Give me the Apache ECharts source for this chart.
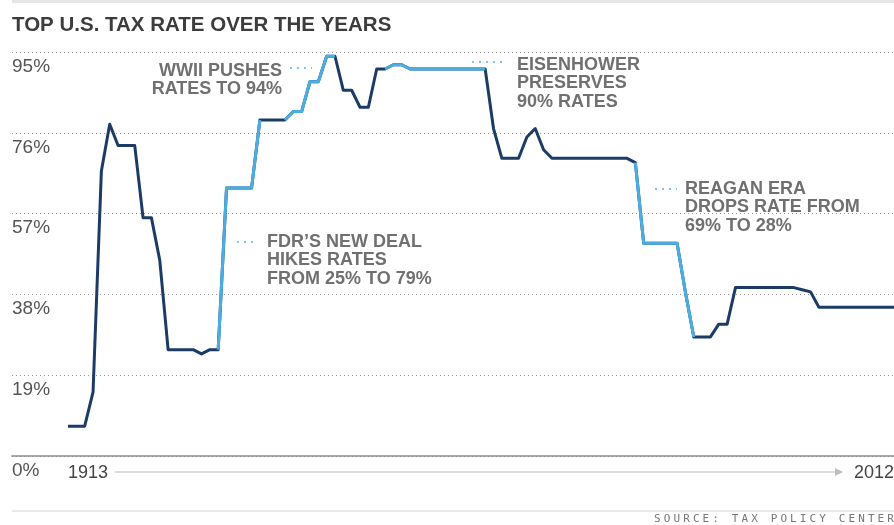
<!DOCTYPE html>
<html>
<head>
<meta charset="utf-8">
<script src="https://cdn.jsdelivr.net/npm/echarts@6/dist/echarts.min.js"></script>
<style>
html,body{margin:0;padding:0;background:#fff;}
#wrap{position:relative;width:894px;height:525px;overflow:hidden;}
#c{width:894px;height:525px;}
#src{position:absolute;left:654px;top:512px;font-family:"DejaVu Sans Mono","Liberation Mono",monospace;font-size:11px;letter-spacing:3.1px;color:#777;white-space:nowrap;}
</style>
</head>
<body>
<div id="wrap"><div id="c"></div><div id="src">SOURCE: TAX POLICY CENTER</div></div>
<script>
// ---- data ----
const years = [1913,1914,1915,1916,1917,1918,1919,1920,1921,1922,1923,1924,1925,1926,1927,1928,1929,1930,1931,1932,
1933,1934,1935,1936,1937,1938,1939,1940,1941,1942,1943,1944,1945,1946,1947,1948,1949,1950,1951,1952,
1953,1954,1955,1956,1957,1958,1959,1960,1961,1962,1963,1964,1965,1966,1967,1968,1969,1970,1971,1972,
1973,1974,1975,1976,1977,1978,1979,1980,1981,1982,1983,1984,1985,1986,1987,1988,1989,1990,1991,1992,
1993,1994,1995,1996,1997,1998,1999,2000,2001,2002,2003,2004,2005,2006,2007,2008,2009,2010,2011,2012];
const rates = [7,7,7,15,67,78,73,73,73,56,56,46,25,25,25,25,24,25,25,63,
63,63,63,79,79,79,79,81,81,88,88,94,94,86,86,82,82,91,91,92,
92,91,91,91,91,91,91,91,91,91,91,77,70,70,70,75,77,72,70,70,
70,70,70,70,70,70,70,70,69,50,50,50,50,50,38.5,28,28,28,31,31,
39.6,39.6,39.6,39.6,39.6,39.6,39.6,39.6,39.1,38.6,35,35,35,35,35,35,35,35,35,35];
const yTicks = [0,19,38,57,76,95];
const xLabelYears = [1913, 2012];
const highlightRanges = [[1931,1936],[1939,1945],[1951,1963],[1981,1988]];
const annotations = [
  {text:'WWII PUSHES\nRATES TO 94%', x:282, y:61.5, align:'right', dots:[290,312,68]},
  {text:'EISENHOWER\nPRESERVES\n90% RATES', x:517, y:55.5, align:'left', dots:[472,507,62]},
  {text:'FDR\u2019S NEW DEAL\nHIKES RATES\nFROM 25% TO 79%', x:267, y:232.5, align:'left', dots:[237,258,242]},
  {text:'REAGAN ERA\nDROPS RATE FROM\n69% TO 28%', x:685, y:179.5, align:'left', dots:[655,677,189]}
];

const DARK = '#1c3c66';
const LIGHT = '#4aaee3';

const fullData = years.map((y,i)=>[y, rates[i]]);
const lightSeries = highlightRanges.map(r => ({
  type:'line', xAxisIndex:1, yAxisIndex:1, symbol:'none', z:4,
  lineStyle:{color:LIGHT, width:3, join:'round'},
  data: fullData.filter(d => d[0] >= r[0] && d[0] <= r[1]),
  silent:true, animation:false
}));

const graphics = [
  {type:'rect', shape:{x:12,y:0,width:882,height:3}, style:{fill:'#e6e6e6'}},
  {type:'rect', shape:{x:12,y:510,width:882,height:2}, style:{fill:'#e9e9e9'}},
  {type:'text', x:12, y:15, style:{text:'TOP U.S. TAX RATE OVER THE YEARS', font:'bold 20.5px "Liberation Sans", Arial, sans-serif', fill:'#3c3c3c', verticalAlign:'top'}},
  {type:'line', shape:{x1:115,y1:472,x2:836,y2:472}, style:{stroke:'#bdbdbd', lineWidth:1.2}},
  {type:'polygon', shape:{points:[[835,468],[843,472],[835,476]]}, style:{fill:'#bdbdbd'}}
];
annotations.forEach(a => {
  graphics.push({type:'text', x:a.x, y:a.y, z:10, style:{text:a.text, align:a.align, verticalAlign:'top', lineHeight:18.5,
    font:'bold 18px "Liberation Sans", Arial, sans-serif', fill:'#707070'}});
  graphics.push({type:'line', z:10, shape:{x1:a.dots[0], y1:a.dots[2], x2:a.dots[1], y2:a.dots[2]},
    style:{stroke:'#7fc6ea', lineWidth:2, lineDash:[2,5]}});
});

const chart = echarts.init(document.getElementById('c'), null, {renderer:'canvas'});
chart.setOption({
  animation:false,
  backgroundColor:'#fff',
  grid:[
    {left:12, right:0, top:52, bottom:69, outerBoundsMode:'none', containLabel:false},
    {left:68, right:0, top:52, bottom:69, outerBoundsMode:'none', containLabel:false}
  ],
  xAxis:[
    {gridIndex:0, type:'value', min:0, max:1, axisLabel:{show:false}, axisTick:{show:false}, splitLine:{show:false},
      axisLine:{show:true, lineStyle:{color:'#8c8c8c', width:1.5}}},
    {gridIndex:1, type:'value', min:1913, max:2012, axisLine:{show:false}, axisTick:{show:false}, splitLine:{show:false},
      axisLabel:{customValues:xLabelYears, showMinLabel:true, showMaxLabel:true, alignMinLabel:'left', alignMaxLabel:'right',
        formatter: v => String(v),
        fontSize:18, fontFamily:'"Liberation Sans", Arial, sans-serif', color:'#444', margin:8}}
  ],
  yAxis:[
    {gridIndex:0, type:'value', min:0, max:95, interval:19, axisLine:{show:false}, axisTick:{show:false},
      splitLine:{show:true, lineStyle:{color:'#9a9a9a', width:1, type:[1,3]}},
      axisLabel:{inside:true, margin:0, align:'left', verticalAlign:'top', padding:[5,0,0,0],
        fontSize:19, fontFamily:'"Liberation Sans", Arial, sans-serif', color:'#555',
        formatter: v => yTicks.includes(v) ? v + '%' : ''}},
    {gridIndex:1, type:'value', min:0, max:95, show:false}
  ],
  series:[
    {type:'line', xAxisIndex:1, yAxisIndex:1, symbol:'none', z:3, silent:true,
      lineStyle:{color:DARK, width:3, join:'round'}, data:fullData}
  ].concat(lightSeries),
  graphic:graphics
});
</script>
</body>
</html>
